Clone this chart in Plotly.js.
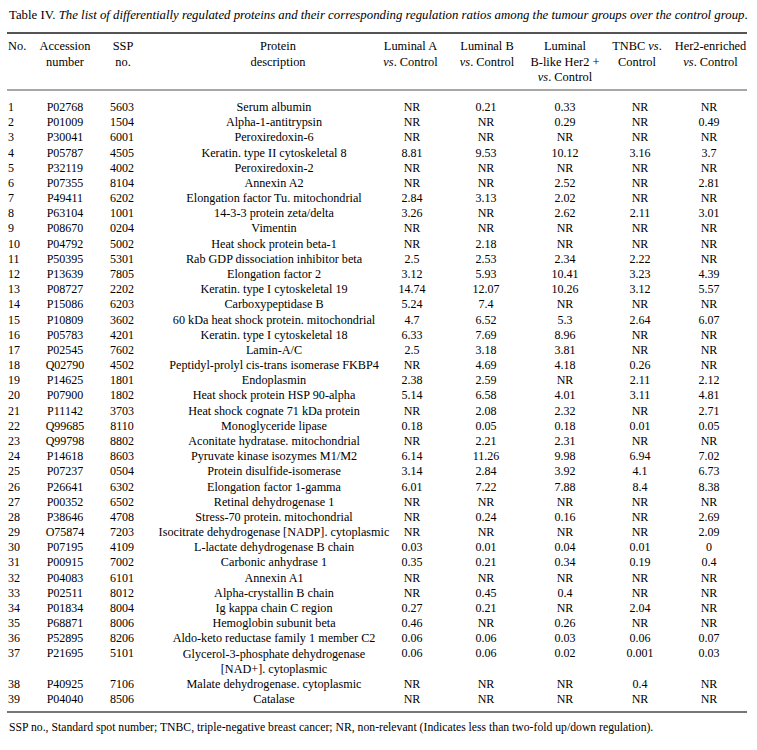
<!DOCTYPE html>
<html>
<head>
<meta charset="utf-8">
<script src="https://cdn.plot.ly/plotly-3.0.1.min.js"></script>
<style>html,body{margin:0;padding:0;background:#fff;}#chart{width:757px;height:750px;}</style>
</head>
<body>
<div id="chart"></div>
<script>
// ---------------- DATA ----------------
const titleText = "Table IV. <i>The list of differentially regulated proteins and their corresponding regulation ratios among the tumour groups over the control group</i>.";
const footnoteText = "SSP no., Standard spot number; TNBC, triple-negative breast cancer; NR, non-relevant (Indicates less than two-fold up/down regulation).";

const headers = ["No.", "Accession<br>number", "SSP<br>no.", "Protein<br>description",
  "Luminal A<br><i>vs</i>. Control", "Luminal B<br><i>vs</i>. Control",
  "Luminal<br>B-like Her2 +<br><i>vs</i>. Control", "TNBC <i>vs</i>.<br>Control",
  "Her2-enriched<br><i>vs</i>. Control"];

const rowNo = ["1","2","3","4","5","6","7","8","9","10","11","12","13","14","15","16","17","18","19","20",
  "21","22","23","24","25","26","27","28","29","30","31","32","33","34","35","36","37","38","39"];

const accession = ["P02768","P01009","P30041","P05787","P32119","P07355","P49411","P63104","P08670","P04792",
  "P50395","P13639","P08727","P15086","P10809","P05783","P02545","Q02790","P14625","P07900",
  "P11142","Q99685","Q99798","P14618","P07237","P26641","P00352","P38646","O75874","P07195",
  "P00915","P04083","P02511","P01834","P68871","P52895","P21695","P40925","P04040"];

const sspNo = ["5603","1504","6001","4505","4002","8104","6202","1001","0204","5002",
  "5301","7805","2202","6203","3602","4201","7602","4502","1801","1802",
  "3703","8110","8802","8603","0504","6302","6502","4708","7203","4109",
  "7002","6101","8012","8004","8006","8206","5101","7106","8506"];

const description = ["Serum albumin","Alpha-1-antitrypsin","Peroxiredoxin-6","Keratin. type II cytoskeletal 8",
  "Peroxiredoxin-2","Annexin A2","Elongation factor Tu. mitochondrial","14-3-3 protein zeta/delta","Vimentin",
  "Heat shock protein beta-1","Rab GDP dissociation inhibitor beta","Elongation factor 2",
  "Keratin. type I cytoskeletal 19","Carboxypeptidase B","60 kDa heat shock protein. mitochondrial",
  "Keratin. type I cytoskeletal 18","Lamin-A/C","Peptidyl-prolyl cis-trans isomerase FKBP4","Endoplasmin",
  "Heat shock protein HSP 90-alpha","Heat shock cognate 71 kDa protein","Monoglyceride lipase",
  "Aconitate hydratase. mitochondrial","Pyruvate kinase isozymes M1/M2","Protein disulfide-isomerase",
  "Elongation factor 1-gamma","Retinal dehydrogenase 1","Stress-70 protein. mitochondrial",
  "Isocitrate dehydrogenase [NADP]. cytoplasmic","L-lactate dehydrogenase B chain","Carbonic anhydrase 1",
  "Annexin A1","Alpha-crystallin B chain","Ig kappa chain C region","Hemoglobin subunit beta",
  "Aldo-keto reductase family 1 member C2","Glycerol-3-phosphate dehydrogenase<br>[NAD+]. cytoplasmic",
  "Malate dehydrogenase. cytoplasmic","Catalase"];

const luminalA = ["NR","NR","NR","8.81","NR","NR","2.84","3.26","NR","NR",
  "2.5","3.12","14.74","5.24","4.7","6.33","2.5","NR","2.38","5.14",
  "NR","0.18","NR","6.14","3.14","6.01","NR","NR","NR","0.03",
  "0.35","NR","NR","0.27","0.46","0.06","0.06","NR","NR"];

const luminalB = ["0.21","NR","NR","9.53","NR","NR","3.13","NR","NR","2.18",
  "2.53","5.93","12.07","7.4","6.52","7.69","3.18","4.69","2.59","6.58",
  "2.08","0.05","2.21","11.26","2.84","7.22","NR","0.24","NR","0.01",
  "0.21","NR","0.45","0.21","NR","0.06","0.06","NR","NR"];

const luminalBHer2 = ["0.33","0.29","NR","10.12","NR","2.52","2.02","2.62","NR","NR",
  "2.34","10.41","10.26","NR","5.3","8.96","3.81","4.18","NR","4.01",
  "2.32","0.18","2.31","9.98","3.92","7.88","NR","0.16","NR","0.04",
  "0.34","NR","0.4","NR","0.26","0.03","0.02","NR","NR"];

const tnbc = ["NR","NR","NR","3.16","NR","NR","NR","2.11","NR","NR",
  "2.22","3.23","3.12","NR","2.64","NR","NR","0.26","2.11","3.11",
  "NR","0.01","NR","6.94","4.1","8.4","NR","NR","NR","0.01",
  "0.19","NR","NR","2.04","NR","0.06","0.001","0.4","NR"];

const her2Enriched = ["NR","0.49","NR","3.7","NR","2.81","NR","3.01","NR","NR",
  "NR","4.39","5.57","NR","6.07","NR","NR","NR","2.12","4.81",
  "2.71","0.05","NR","7.02","6.73","8.38","NR","2.69","2.09","0",
  "0.4","NR","NR","NR","NR","0.07","0.03","NR","NR"];

// ---------------- LAYOUT CONFIG ----------------
const W = 757, H = 750;
const PITCH = 15.18;          // px per text line
const FIRST_ROW_PX = 108;     // pixel centre of first body row
const toLine = px => (px - FIRST_ROW_PX) / PITCH;

const FONT = "Liberation Serif, 'Times New Roman', Times, serif";
const TXT = "#000000";

const columns = [
  {data: rowNo,        x: 8,   hx: 8,     pos: "middle right",  fs: 12,   hfs: 12.4},
  {data: accession,    x: 65,  hx: 65,    pos: "middle center", fs: 12,   hfs: 12.4},
  {data: sspNo,        x: 122, hx: 123,   pos: "middle center", fs: 12,   hfs: 12.4},
  {data: description,  x: 274, hx: 278,   pos: "middle center", fs: 12.2, hfs: 12.4},
  {data: luminalA,     x: 412, hx: 410.5, pos: "middle center", fs: 12,   hfs: 12.4},
  {data: luminalB,     x: 486, hx: 487,   pos: "middle center", fs: 12,   hfs: 12.4},
  {data: luminalBHer2, x: 565, hx: 565,   pos: "middle center", fs: 12,   hfs: 12.4},
  {data: tnbc,         x: 640, hx: 637,   pos: "middle center", fs: 12,   hfs: 12.4},
  {data: her2Enriched, x: 709, hx: 710.5, pos: "middle center", fs: 12,   hfs: 12.4}
];

const HEADER_TOP_PX = 47.3;
const TITLE_PX = 15;
const RULE_TOP_PX = 33, RULE_MID_PX = 90, RULE_BOT_PX = 712;
const FOOT_PX = 727;

const rowLine = [];
{
  let l = 0;
  for (let i = 0; i < rowNo.length; i++) {
    rowLine.push(l);
    let maxLines = 1;
    columns.forEach(c => { maxLines = Math.max(maxLines, String(c.data[i]).split("<br>").length); });
    l += maxLines;
  }
}

const traces = [];
columns.forEach((c, ci) => {
  const hx = [], hy = [], ht = [];
  headers[ci].split("<br>").forEach((t, k) => { hx.push(c.hx); hy.push(toLine(HEADER_TOP_PX) + k); ht.push(t); });
  traces.push({type: "scatter", mode: "text", x: hx, y: hy, text: ht, textposition: c.pos,
    textfont: {family: FONT, size: c.hfs, color: TXT}, hoverinfo: "skip", showlegend: false, cliponaxis: false});
  const bx = [], by = [], bt = [];
  c.data.forEach((v, i) => {
    String(v).split("<br>").forEach((t, k) => { bx.push(c.x); by.push(rowLine[i] + k); bt.push(t); });
  });
  traces.push({type: "scatter", mode: "text", x: bx, y: by, text: bt, textposition: c.pos,
    textfont: {family: FONT, size: c.fs, color: TXT}, hoverinfo: "skip", showlegend: false, cliponaxis: false});
});

const rule = (px, w, col) => ({type: "line", xref: "x", yref: "y", x0: 7, x1: 747,
  y0: toLine(px), y1: toLine(px), line: {color: col, width: w}});

const layout = {
  width: W, height: H,
  margin: {l: 0, r: 0, t: 0, b: 0, pad: 0},
  paper_bgcolor: "#ffffff", plot_bgcolor: "#ffffff",
  xaxis: {range: [0, W], visible: false, fixedrange: true},
  yaxis: {range: [toLine(H), toLine(0)], visible: false, fixedrange: true},
  shapes: [rule(RULE_TOP_PX, 2, "#555555"), rule(RULE_MID_PX, 1.3, "#8a8a8a"), rule(RULE_BOT_PX, 2, "#777777")],
  annotations: [
    {xref: "x", yref: "y", x: 7, y: toLine(TITLE_PX), xanchor: "left", yanchor: "middle", showarrow: false,
     text: titleText, font: {family: FONT, size: 12.8, color: TXT}},
    {xref: "x", yref: "y", x: 7, y: toLine(FOOT_PX), xanchor: "left", yanchor: "middle", showarrow: false,
     text: footnoteText, font: {family: FONT, size: 11.7, color: TXT}}
  ],
  font: {family: FONT, size: 12, color: TXT}
};

Plotly.newPlot("chart", traces, layout, {displayModeBar: false, staticPlot: true});
</script>
</body>
</html>
